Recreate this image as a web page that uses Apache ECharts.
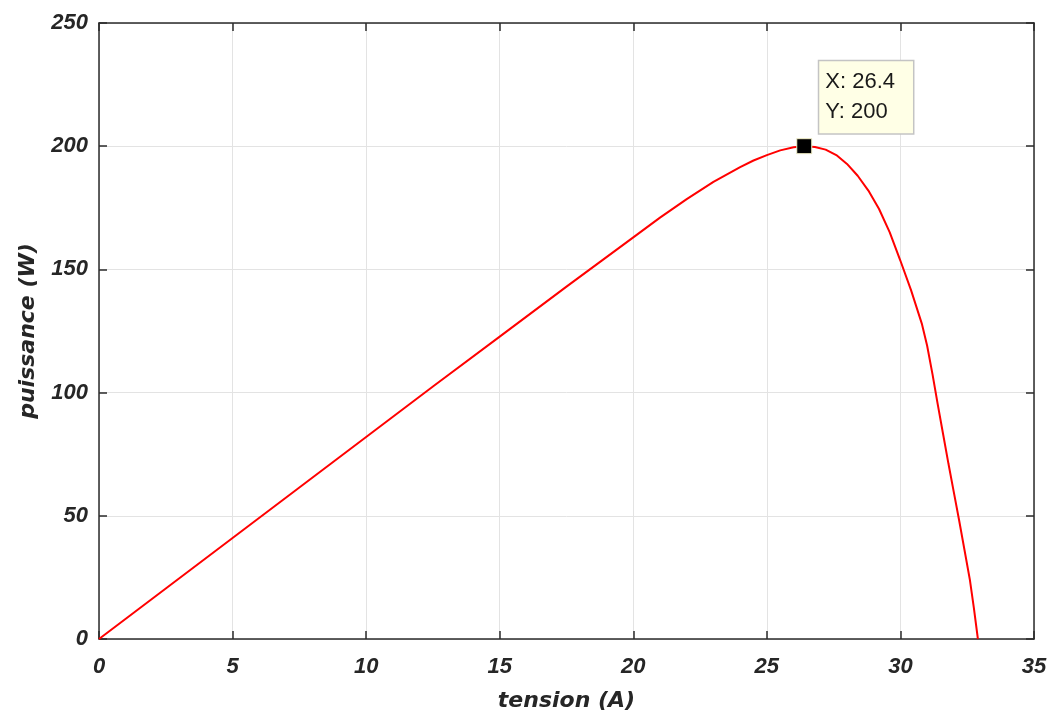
<!DOCTYPE html>
<html>
<head>
<meta charset="utf-8">
<title>Courbe P-V</title>
<script src="https://cdn.jsdelivr.net/npm/echarts@6/dist/echarts.min.js"></script>
<style>
  html, body { margin: 0; padding: 0; background: #ffffff; }
  #chart { width: 1052px; height: 715px; }
</style>
</head>
<body>
<div id="chart"></div>
<script>
// Courbe puissance / tension du panneau
const tension = [0, 2.5, 5, 7.5, 10, 12.5, 15, 17.5, 20, 21, 22, 23, 24, 24.5, 25, 25.5, 26, 26.4, 26.8, 27.2, 27.6, 28.0, 28.4, 28.8, 29.2, 29.6, 30.0, 30.4, 30.8, 31.0, 31.2, 31.4, 31.6, 31.8, 32.0, 32.2, 32.4, 32.6, 32.75, 32.9];
const puissance = [0, 20.5, 41, 61.5, 82, 102.5, 122.7, 143, 163, 171, 178.5, 185.5, 191.5, 194.2, 196.4, 198.3, 199.6, 200, 199.7, 198.6, 196.4, 192.8, 188, 182, 174.5, 165, 153.5, 141.5, 128, 119, 107.5, 95, 83, 71, 59.5, 48, 36, 24, 12.5, 0];

// Point repéré (maximum de puissance)
const mppX = 26.4;
const mppY = 200;

const xTicks = { min: 0, max: 35, interval: 5 };
const yTicks = { min: 0, max: 250, interval: 50 };

const axisColor = '#2b2b2b';
const textColor = '#262626';
const tickFont = { fontFamily: 'Liberation Sans, Arial, sans-serif', fontWeight: 'bold', fontStyle: 'italic', fontSize: 22, color: textColor };
const nameFont = { fontFamily: 'DejaVu Sans, sans-serif', fontWeight: 'bold', fontStyle: 'italic', fontSize: 22, color: textColor };

const curve = tension.map((x, i) => [x, puissance[i]]);

const chart = echarts.init(document.getElementById('chart'), null, { renderer: 'canvas' });

const frameAxis = (extra) => Object.assign({
  type: 'value',
  axisLine: { show: true, onZero: false, lineStyle: { color: axisColor, width: 1.5 } },
  axisTick: { show: true, inside: true, length: 8, lineStyle: { color: axisColor, width: 1.5 } },
  axisLabel: { show: false },
  splitLine: { show: false }
}, extra);

chart.setOption({
  animation: false,
  backgroundColor: '#ffffff',
  grid: { left: 99, top: 23, right: 18, bottom: 76, containLabel: false, outerBoundsMode: 'none' },
  xAxis: [
    frameAxis({
      position: 'bottom',
      min: xTicks.min, max: xTicks.max, interval: xTicks.interval,
      name: 'tension (A)',
      nameLocation: 'middle',
      nameGap: 51,
      nameTextStyle: nameFont,
      axisLabel: Object.assign({ show: true, margin: 17 }, tickFont),
      splitLine: { show: true, lineStyle: { color: '#e3e3e3', width: 1 } }
    }),
    frameAxis({ position: 'top', min: xTicks.min, max: xTicks.max, interval: xTicks.interval })
  ],
  yAxis: [
    frameAxis({
      position: 'left',
      min: yTicks.min, max: yTicks.max, interval: yTicks.interval,
      name: 'puissance (W)',
      nameLocation: 'middle',
      nameGap: 60,
      nameRotate: 90,
      nameTextStyle: nameFont,
      axisLabel: Object.assign({ show: true, margin: 11, padding: [7, 0, 0, 0] }, tickFont),
      splitLine: { show: true, lineStyle: { color: '#e3e3e3', width: 1 } }
    }),
    frameAxis({ position: 'right', min: yTicks.min, max: yTicks.max, interval: yTicks.interval })
  ],
  series: [
    {
      type: 'line',
      data: curve,
      xAxisIndex: 0,
      yAxisIndex: 0,
      showSymbol: false,
      smooth: false,
      lineStyle: { color: '#ff0000', width: 2 },
      z: 3
    },
    {
      type: 'scatter',
      data: [[mppX, mppY]],
      xAxisIndex: 0,
      yAxisIndex: 0,
      symbol: 'rect',
      symbolSize: 15,
      itemStyle: { color: '#000000', opacity: 1, borderColor: '#f3f0c8', borderWidth: 1 },
      emphasis: { disabled: true },
      label: {
        show: true,
        position: [23, -77],
        formatter: (p) => 'X: ' + p.value[0] + '\nY: ' + p.value[1],
        fontFamily: 'Liberation Sans, Arial, sans-serif',
        fontSize: 22,
        lineHeight: 30,
        color: '#1a1a1a',
        backgroundColor: '#ffffe6',
        borderColor: '#c4c4c4',
        borderWidth: 1.5,
        padding: [6, 18, 6, 6],
        align: 'left',
        verticalAlign: 'top'
      },
      z: 5
    }
  ]
});
</script>
</body>
</html>
